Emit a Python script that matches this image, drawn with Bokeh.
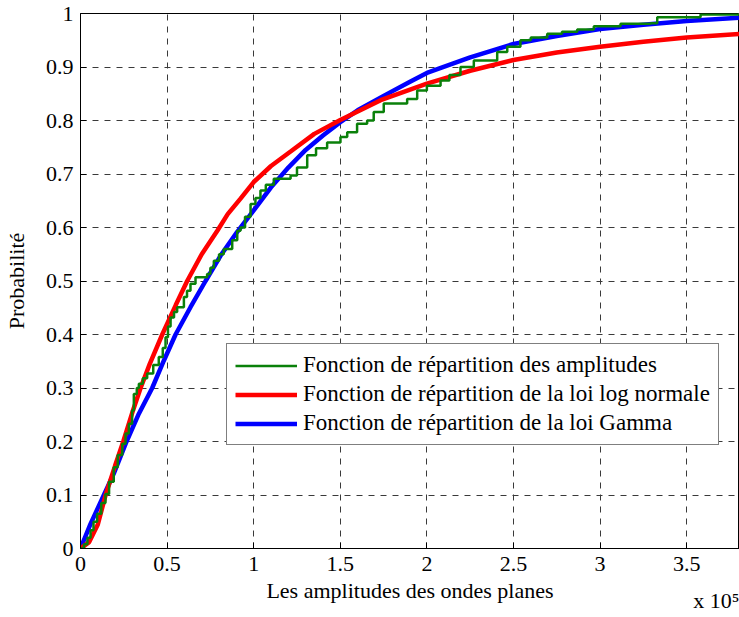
from bokeh.plotting import figure
from bokeh.models import (Legend, LegendItem, FixedTicker, PrintfTickFormatter,
                          CustomJSTickFormatter, LinearAxis, Range1d)
from bokeh.embed import file_html
from bokeh.resources import INLINE

# ---------------- data (x in units of 1e5) ----------------
emp_x = [0, 0.02, 0.04, 0.058, 0.075, 0.096, 0.12, 0.144, 0.165, 0.192, 0.215,
         0.241, 0.26, 0.279, 0.298, 0.308, 0.325, 0.337, 0.36, 0.385, 0.42,
         0.452, 0.475, 0.491, 0.505, 0.52, 0.54, 0.558, 0.597, 0.615, 0.635,
         0.664, 0.731, 0.75, 0.77, 0.80, 0.827, 0.876, 0.905, 0.924, 0.95,
         0.982, 1.01, 1.039, 1.07, 1.116, 1.213, 1.25, 1.309, 1.36, 1.424,
         1.501, 1.54, 1.597, 1.655, 1.693, 1.751, 1.886, 1.944, 2.0, 2.079,
         2.13, 2.194, 2.271, 2.406, 2.464, 2.54, 2.6, 2.695, 2.78, 2.868,
         2.964, 3.118, 3.291, 3.33, 3.58, 3.81]
emp_y = [0, 0.008, 0.02, 0.034, 0.05, 0.065, 0.085, 0.102, 0.125, 0.152, 0.175,
         0.196, 0.215, 0.233, 0.258, 0.289, 0.30, 0.308, 0.318, 0.327, 0.343,
         0.358, 0.375, 0.395, 0.415, 0.432, 0.442, 0.451, 0.47, 0.482, 0.495,
         0.507, 0.513, 0.525, 0.538, 0.55, 0.56, 0.576, 0.594, 0.60, 0.62,
         0.644, 0.655, 0.669, 0.68, 0.691, 0.697, 0.712, 0.735, 0.748, 0.759,
         0.769, 0.778, 0.794, 0.80, 0.816, 0.832, 0.84, 0.856, 0.865, 0.875,
         0.885, 0.90, 0.912, 0.928, 0.938, 0.95, 0.955, 0.962, 0.966, 0.97,
         0.976, 0.981, 0.982, 0.993, 0.998, 1.0]

logn_x = [0, 0.05, 0.1, 0.145, 0.2, 0.247, 0.3, 0.347, 0.4, 0.472, 0.55, 0.616,
          0.7, 0.79, 0.85, 0.924, 1.0, 1.1, 1.213, 1.35, 1.5, 1.733, 2.0, 2.25,
          2.5, 2.75, 3.0, 3.25, 3.5, 3.81]
logn_y = [0, 0.012, 0.045, 0.1, 0.155, 0.2, 0.255, 0.3, 0.345, 0.40, 0.455, 0.50,
          0.55, 0.594, 0.625, 0.654, 0.685, 0.715, 0.742, 0.775, 0.801, 0.838,
          0.869, 0.893, 0.913, 0.927, 0.938, 0.947, 0.955, 0.962]

gam_x = [0, 0.058, 0.135, 0.192, 0.266, 0.337, 0.414, 0.481, 0.549, 0.635, 0.722,
         0.81, 0.905, 1.0, 1.1, 1.2, 1.3, 1.4, 1.5, 1.6, 1.75, 1.9, 2.0, 2.25,
         2.5, 2.75, 3.0, 3.25, 3.5, 3.81]
gam_y = [0, 0.046, 0.1, 0.14, 0.2, 0.252, 0.3, 0.351, 0.4, 0.451, 0.50, 0.548,
         0.592, 0.632, 0.675, 0.712, 0.745, 0.772, 0.797, 0.819, 0.846, 0.872,
         0.889, 0.918, 0.943, 0.958, 0.971, 0.979, 0.986, 0.992]

x_ticks = [0, 0.5, 1, 1.5, 2, 2.5, 3, 3.5]
y_ticks = [0, 0.1, 0.2, 0.3, 0.4, 0.5, 0.6, 0.7, 0.8, 0.9, 1]
exponent_text = "x 10⁵"
exponent_pos = [3.672]

labels = ["Fonction de répartition des amplitudes",
          "Fonction de répartition de la loi log normale",
          "Fonction de répartition de la loi Gamma"]

FONT = "Liberation Serif"

p = figure(width=739, height=617, output_backend="svg", toolbar_location=None,
           x_range=Range1d(0, 3.805), y_range=Range1d(0, 1),
           min_border_left=80, min_border_right=0, min_border_top=13,
           min_border_bottom=69)
p.background_fill_color = "white"
p.border_fill_color = "white"
p.outline_line_color = "black"
p.outline_line_width = 1

r_g = p.line(gam_x, gam_y, line_color="#0000ff", line_width=4.5)
r_l = p.line(logn_x, logn_y, line_color="#ff0000", line_width=4.5)
r_e = p.step(emp_x, emp_y, mode="after", line_color="#0a800a", line_width=2.5)

for ax in (p.xaxis[0], p.yaxis[0]):
    ax.major_label_text_font = FONT
    ax.major_label_text_font_size = "22px"
    ax.major_label_text_color = "black"
    ax.axis_label_text_font = FONT
    ax.axis_label_text_font_size = "22px"
    ax.axis_label_text_font_style = "normal"
    ax.axis_label_text_color = "black"
    ax.axis_line_color = "black"
    ax.major_tick_in = 6
    ax.major_tick_out = 0
    ax.minor_tick_line_color = None
    ax.major_tick_line_color = "black"
    ax.formatter = PrintfTickFormatter(format="%g")

p.xaxis[0].ticker = FixedTicker(ticks=x_ticks)
p.yaxis[0].ticker = FixedTicker(ticks=y_ticks)
p.xaxis[0].axis_label = "Les amplitudes des ondes planes"
p.yaxis[0].axis_label = "Probabilité"
p.xaxis[0].major_label_standoff = 8
p.xaxis[0].axis_label_standoff = 4
p.yaxis[0].major_label_standoff = 7
p.yaxis[0].axis_label_standoff = 14

# exponent note "x 10^5" at the lower right, drawn as a tick label of a bare axis
exp_axis = LinearAxis(ticker=FixedTicker(ticks=exponent_pos),
                      formatter=CustomJSTickFormatter(code="return '%s'" % exponent_text),
                      axis_line_color=None, major_tick_line_color=None,
                      minor_tick_line_color=None, major_tick_in=0, major_tick_out=0,
                      major_label_standoff=-18,
                      major_label_text_font=FONT, major_label_text_font_size="22px",
                      major_label_text_color="black")
p.add_layout(exp_axis, "below")

for g in (p.xgrid[0], p.ygrid[0]):
    g.grid_line_color = "#3a3a3a"
    g.grid_line_dash = "6 6"
    g.grid_line_width = 1

legend = Legend(items=[LegendItem(label=labels[0], renderers=[r_e]),
                       LegendItem(label=labels[1], renderers=[r_l]),
                       LegendItem(label=labels[2], renderers=[r_g])],
                location=(146, 103))
legend.label_text_font = FONT
legend.label_text_font_size = "23px"
legend.label_text_color = "black"
legend.glyph_width = 62
legend.label_standoff = 6
legend.padding = 8
legend.spacing = 3
legend.label_height = 25
legend.glyph_height = 25
legend.margin = 0
legend.border_line_color = "black"
legend.border_line_width = 1
legend.background_fill_alpha = 1
p.add_layout(legend, "center")

open("out.html", "w").write(file_html(p, INLINE))
